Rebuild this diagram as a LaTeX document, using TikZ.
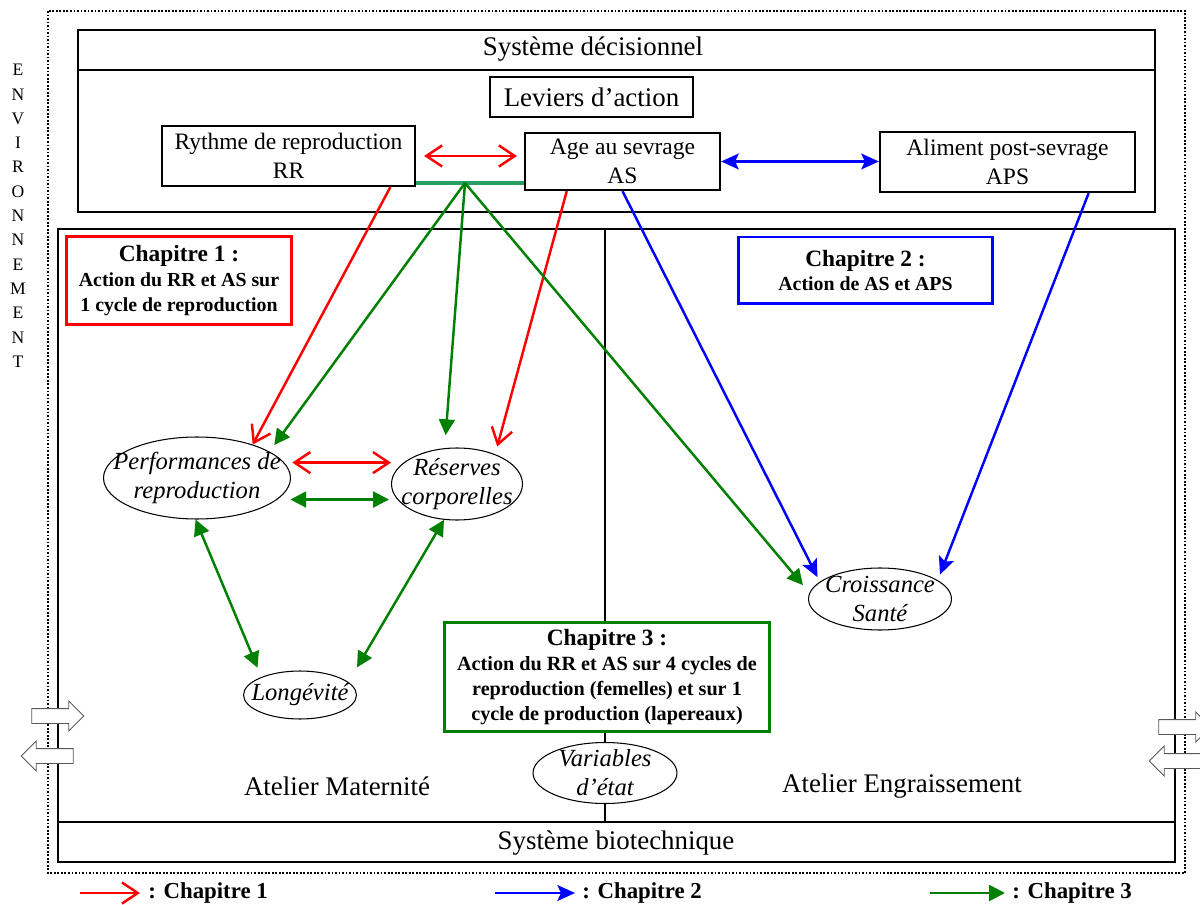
\documentclass[tikz,border=0pt]{standalone}
\usepackage{fontspec}
\setmainfont{Liberation Serif}
\usetikzlibrary{arrows.meta,shapes.geometric,shapes.arrows}
\definecolor{rouge}{RGB}{255,0,0}
\definecolor{bleu}{RGB}{0,0,255}
\definecolor{vert}{RGB}{0,128,0}
\definecolor{vertclair}{RGB}{40,160,100}
\begin{document}
\begin{tikzpicture}[x=0.02cm,y=-0.02cm,
  barbe/.tip={Straight Barb[length=9pt,width=12pt]},
  fleche/.tip={Stealth[length=10pt,width=9pt,inset=2pt]},
  tri/.tip={Triangle[length=9pt,width=9pt]},
  cadre/.style={draw,line width=1.3pt},
  boite/.style={draw,line width=1.3pt,fill=white,align=center,inner sep=0pt,font=\fontsize{13.4}{16.5}\selectfont},
  ovale/.style={draw,ellipse,line width=0.6pt,fill=white,inner sep=0pt},
  texteov/.style={align=center,font=\fontsize{14}{16.5}\selectfont\itshape},
  chap/.style={draw,line width=1.7pt,fill=white,align=center,inner sep=0pt,font=\bfseries\fontsize{11.3}{14}\selectfont},
  titre/.style={font=\fontsize{15.3}{18}\selectfont},
  fr/.style={rouge,line width=1.4pt,-barbe},
  fb/.style={bleu,line width=1.4pt,-fleche},
  fv/.style={vert,line width=1.4pt,-tri},
  bloc/.style={single arrow,draw=gray!70!black,fill=white,line width=0.5pt,inner xsep=0pt,inner ysep=0.14cm,
    minimum height=1.04cm,single arrow head extend=0.15cm}
]
\useasboundingbox (0,0) rectangle (1200,905);
% cadres
\draw[densely dotted,line width=1pt] (48,11) rectangle (1185,873);
\draw[cadre] (78,30) rectangle (1155,212);
\draw[cadre] (78,70) -- (1155,70);
\draw[cadre] (58,229) rectangle (1175,862);
\draw[cadre] (58,822) -- (1175,822);
\draw[cadre] (605,229) -- (605,822);
%
\foreach \lettre [count=\i from 0] in {E,N,V,I,R,O,N,N,E,M,E,N,T}
  \node[font=\fontsize{10}{12}\selectfont] (env\i) at (18,{70+24.3*\i}) {\lettre};
%
\node[titre] (sysdec) at (593,49) {Système décisionnel};
\node[titre] (sysbio) at (616,843) {Système biotechnique};
\node[boite,font=\fontsize{15.3}{18}\selectfont,minimum width=4.06cm,minimum height=0.8cm] (leviers) at (591.5,97) {Leviers d’action};
\node[boite,minimum width=5.06cm,minimum height=1.2cm] (rr) at (288.5,156) {Rythme de reproduction\\RR};
\node[boite,minimum width=3.9cm,minimum height=1.14cm] (as) at (622.5,161.5) {Age au sevrage\\AS};
\node[boite,minimum width=5.1cm,minimum height=1.2cm] (aps) at (1007.5,162) {Aliment post-sevrage\\APS};
%
\node[chap,draw=rouge,minimum width=4.52cm,minimum height=1.78cm] (chap1) at (179,280.5)
  {{\fontsize{13.3}{16}\selectfont Chapitre 1 :}\\Action du RR et AS sur\\1 cycle de reproduction};
\node[chap,draw=bleu,minimum width=5.1cm,minimum height=1.34cm] (chap2) at (865.5,270.5)
  {{\fontsize{13.3}{16}\selectfont Chapitre 2 :}\\Action de AS et APS};
\node[chap,draw=vert,minimum width=6.52cm,minimum height=2.2cm,font=\bfseries\fontsize{11.5}{14.2}\selectfont] (chap3) at (607,677)
  {{\fontsize{13.3}{16}\selectfont Chapitre 3 :}\\Action du RR et AS sur 4 cycles de\\reproduction (femelles) et sur 1\\cycle de production (lapereaux)};
%
\node[ovale,minimum width=3.74cm,minimum height=1.64cm,label={[texteov]center:{Performances de\\reproduction}}] (perf) at (197,478) {};
\node[ovale,minimum width=2.62cm,minimum height=1.44cm,label={[texteov]center:{Réserves\\corporelles}}] (res) at (457,484) {};
\node[ovale,minimum width=2.26cm,minimum height=0.96cm,label={[texteov]center:{Longévité}}] (long) at (300,695) {};
\node[ovale,minimum width=2.86cm,minimum height=1.24cm,label={[texteov]center:{Croissance\\Santé}}] (croiss) at (880,599) {};
\node[ovale,minimum width=2.88cm,minimum height=1.22cm,label={[texteov]center:{Variables\\d’état}}] (var) at (605,773) {};
%
\node[titre] (mat) at (337,786) {Atelier Maternité};
\node[titre] (eng) at (902,786) {Atelier Engraissement};
%
\node[bloc] (entG) at (54,716) {};
\node[bloc,shape border rotate=180] (sortG) at (51,756) {};
\node[bloc] (entD) at (1181,727) {};
\node[bloc,shape border rotate=180] (sortD) at (1179,761) {};
% liens
\coordinate (jn) at (465,183);
\draw[vertclair,line width=1.8pt] (rr.east |- jn) -- (as.west |- jn);
\draw[fr,barbe-barbe,shorten <=0.16cm,shorten >=0.14cm] (rr.east) -- (rr.east -| as.west);
\draw[fb,fleche-fleche] (as.east) -- (as.east -| aps.west);
\draw[fr] (rr.-17.8) -- (perf.31);
\draw[fr,shorten >=0.16cm] (as.-152.8) -- (res.38);
\draw[fv,shorten >=0.16cm] (jn) -- (perf.20);
\draw[fv,shorten >=0.26cm] (jn) -- (res.109);
\draw[fv,shorten >=0.2cm] (jn) -- (croiss.175);
\draw[fb,shorten >=0.1cm] (as.south) -- (croiss.164);
\draw[fb,shorten >=0.12cm] (aps.-21.7) -- (croiss.18);
\draw[fr,barbe-barbe,shorten <=0.16cm] (perf.10) -- (perf.10 -| res.west);
\draw[fv,tri-tri,shorten <=0.26cm,shorten >=0.04cm] (perf.-15) -- (perf.-15 -| res.west);
\draw[fv,tri-tri,shorten >=0.2cm] (perf.-92) -- (long.155.6);
\draw[fv,tri-tri,shorten >=0.34cm] (res.-110) -- (long.15);
% legende
\node[anchor=west,inner sep=0pt,font=\bfseries\fontsize{13}{15}\selectfont] (leg1) at (148,893) {: Chapitre 1};
\node[anchor=west,inner sep=0pt,font=\bfseries\fontsize{13}{15}\selectfont] (leg2) at (582,893) {: Chapitre 2};
\node[anchor=west,inner sep=0pt,font=\bfseries\fontsize{13}{15}\selectfont] (leg3) at (1012,893) {: Chapitre 3};
\draw[fr] ([xshift=-1.36cm]leg1.west) -- ([xshift=-0.16cm]leg1.west);
\draw[fb] ([xshift=-1.74cm]leg2.west) -- ([xshift=-0.14cm]leg2.west);
\draw[fv] ([xshift=-1.64cm]leg3.west) -- ([xshift=-0.14cm]leg3.west);
\end{tikzpicture}
\end{document}
